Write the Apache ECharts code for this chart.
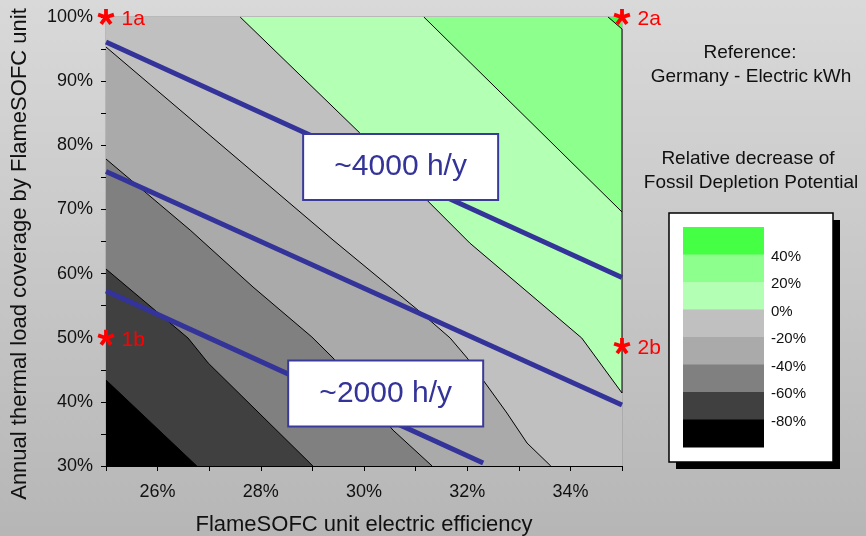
<!DOCTYPE html>
<html>
<head>
<meta charset="utf-8">
<title>Fossil Depletion Potential – FlameSOFC</title>
<script src="https://cdn.jsdelivr.net/npm/echarts@6/dist/echarts.min.js"></script>
<style>
  html, body { margin: 0; padding: 0; }
  #chart { width: 866px; height: 536px; }
</style>
</head>
<body>
<div id="chart"></div>
<script>
// Axis extents (electric efficiency %, thermal load coverage %)
const X_MIN = 25, X_MAX = 35, Y_MIN = 30, Y_MAX = 100;

// Contour lines of the relative decrease, each running from the upper-left edge to the lower-right edge
const contourM80 = [[25, 43.4], [26.76, 30]];
const contourM60 = [[25, 60.71], [26.59, 49.95], [26.98, 46.06], [29.01, 30]];
const contourM40 = [[25, 77.86], [26.63, 66.79], [27.85, 57.9], [28.99, 50.11], [29.4, 46.84], [30.56, 35.61], [31.32, 30]];
const contourM20 = [[25, 95.32], [29.4, 65.23], [31.09, 54.01], [31.67, 49.95], [32.0, 46.83], [32.77, 38.26], [33.16, 33.58], [33.62, 30]];
const contour0   = [[27.6, 100], [29.92, 81.91], [32.05, 64.76], [34.22, 49.95], [35, 41.38]];
const contour20  = [[31.16, 100], [35, 69.6]];
const contour40  = [[34.73, 100], [35, 98.13]];

// Iso-lines of yearly operating hours
const hoursHigh = [[25, 96.1], [35, 59.4]];
const hoursMid  = [[25, 75.9], [35, 39.5]];
const hoursLow  = [[25, 57.3], [32.31, 30.46]];

// Boxed hour labels [x, y, text]
const hourLabels = [[30.71, 76.6, '~4000 h/y'], [30.42, 41.3, '~2000 h/y']];

// Marked cases [x, y, name]
const casePoints = [[25, 100, '1a'], [25, 50, '1b'], [35, 100, '2a'], [35, 48.7, '2b']];

// Band colours from lowest (< -80%) to highest (> 40%)
const bandColors = ['#000000', '#404040', '#808080', '#aaaaaa', '#c0c0c0', '#b3ffb3', '#8cff8c', '#44ff44'];
// Colour scale labels, top to bottom
const scaleLabels = ['40%', '20%', '0%', '-20%', '-40%', '-60%', '-80%'];

const contours = [contourM80, contourM60, contourM40, contourM20, contour0, contour20, contour40];

// Area on the high side (upper right) of a contour line, closed along the plot border
function regionAbove(c) {
  const pts = c.slice();
  const start = c[0], end = c[c.length - 1];
  if (end[1] <= Y_MIN && end[0] < X_MAX) pts.push([X_MAX, Y_MIN]);
  pts.push([X_MAX, Y_MAX]);
  if (start[0] <= X_MIN && start[1] < Y_MAX) pts.push([X_MIN, Y_MAX]);
  return pts;
}
const regions = [[[X_MIN, Y_MIN], [X_MAX, Y_MIN], [X_MAX, Y_MAX], [X_MIN, Y_MAX]]]
  .concat(contours.map(regionAbove));

// Right-hand border of the green area
const greenEdge = [[X_MAX, contour40[contour40.length - 1][1]], [X_MAX, contour0[contour0.length - 1][1]]];

// Five-armed asterisk marker
function asteriskPath() {
  const L = 10, w = 2.3;
  let d = '';
  for (let k = 0; k < 5; k++) {
    const a = (-90 + 72 * k) * Math.PI / 180;
    const dx = Math.cos(a), dy = Math.sin(a);
    const nx = -dy, ny = dx;
    const p = [
      [nx * w, ny * w],
      [nx * w + dx * L, ny * w + dy * L],
      [-nx * w + dx * L, -ny * w + dy * L],
      [-nx * w, -ny * w]
    ];
    d += 'M' + p.map(q => q[0].toFixed(2) + ',' + q[1].toFixed(2)).join('L') + 'Z';
  }
  return 'path://' + d;
}

const FONT = "'Liberation Sans', Arial, sans-serif";

function contourSeries(pts) {
  return {
    type: 'line', data: pts, symbol: 'none', silent: true, z: 3,
    lineStyle: { color: '#000', width: 1 }, animation: false
  };
}
function hoursSeries(pts) {
  return {
    type: 'line', data: pts, symbol: 'none', silent: true, z: 5,
    lineStyle: { color: '#333399', width: 5 }, animation: false
  };
}

// Colour scale box on the right
const LEG_X = 669, LEG_Y = 213, LEG_W = 164, LEG_H = 249;
const SW_X = 683, SW_Y = 227, SW_W = 81, SW_H = 27.5;
const legendGraphics = [
  { type: 'rect', shape: { x: LEG_X + 7, y: LEG_Y + 7, width: LEG_W, height: LEG_H }, style: { fill: '#000' }, z: 10 },
  { type: 'rect', shape: { x: LEG_X, y: LEG_Y, width: LEG_W, height: LEG_H }, style: { fill: '#fff', stroke: '#000', lineWidth: 1.5 }, z: 11 }
];
bandColors.slice().reverse().forEach((c, i) => {
  legendGraphics.push({ type: 'rect', shape: { x: SW_X, y: SW_Y + i * SW_H, width: SW_W, height: SW_H + 0.5 }, style: { fill: c }, z: 12 });
});
scaleLabels.forEach((t, i) => {
  legendGraphics.push({
    type: 'text', x: 771, y: SW_Y + (i + 1) * SW_H + 2, z: 12,
    style: { text: t, font: '15px ' + FONT, fill: '#111', textAlign: 'left', textVerticalAlign: 'middle' }
  });
});

const sideTexts = [
  ['Reference:', 750, 53],
  ['Germany - Electric kWh', 751, 77],
  ['Relative decrease of', 748, 159],
  ['Fossil Depletion Potential', 751, 183]
].map(([t, x, y]) => ({
  type: 'text', x: x, y: y, z: 12,
  style: { text: t, font: '19px ' + FONT, fill: '#111', textAlign: 'center', textVerticalAlign: 'middle' }
}));

const chart = echarts.init(document.getElementById('chart'), null, { renderer: 'canvas' });
chart.setOption({
  animation: false,
  backgroundColor: new echarts.graphic.LinearGradient(0, 0, 0, 1, [
    { offset: 0, color: '#d9d9d9' }, { offset: 1, color: '#b6b6b6' }
  ]),
  textStyle: { fontFamily: FONT },
  grid: {
    left: 106, right: 244, top: 17, bottom: 70, show: true,
    containLabel: false, outerBoundsMode: 'none',
    borderColor: '#9a9a9a', borderWidth: 1, backgroundColor: 'transparent'
  },
  xAxis: {
    type: 'value', min: X_MIN, max: X_MAX, interval: 1,
    name: 'FlameSOFC unit electric efficiency', nameLocation: 'middle', nameGap: 48,
    nameTextStyle: { fontSize: 22, color: '#111', fontFamily: FONT },
    axisLine: { show: true, onZero: false, lineStyle: { color: '#000', width: 1 } },
    axisTick: { show: true, length: 5, lineStyle: { color: '#000' } },
    splitLine: { show: false },
    axisLabel: {
      fontSize: 18, color: '#111', margin: 17, fontFamily: FONT,
      formatter: v => (Math.round(v) % 2 === 0 ? Math.round(v) + '%' : '')
    }
  },
  yAxis: {
    type: 'value', min: Y_MIN, max: Y_MAX, interval: 5,
    axisLine: { show: true, onZero: false, lineStyle: { color: '#000', width: 1 } },
    axisTick: { show: true, length: 5, lineStyle: { color: '#000' } },
    splitLine: { show: false },
    axisLabel: {
      fontSize: 18, color: '#111', margin: 13, fontFamily: FONT,
      formatter: v => (Math.round(v) % 10 === 0 ? Math.round(v) + '%' : '')
    }
  },
  graphic: [
    {
      type: 'text', x: 20, y: 254, rotation: Math.PI / 2, z: 12,
      style: {
        text: 'Annual thermal load coverage by FlameSOFC unit', font: '22px ' + FONT,
        fill: '#111', textAlign: 'center', textVerticalAlign: 'middle'
      }
    }
  ].concat(sideTexts, legendGraphics),
  series: [
    {
      type: 'custom', coordinateSystem: 'cartesian2d', silent: true, z: 1, clip: true,
      data: regions.map((r, i) => [X_MIN, Y_MIN, i]),
      encode: { x: 0, y: 1 },
      renderItem: (params, api) => {
        const i = params.dataIndex;
        const pts = regions[i].map(p => api.coord(p));
        return { type: 'polygon', shape: { points: pts }, style: { fill: bandColors[i], stroke: null } };
      }
    },
    ...contours.map(contourSeries),
    contourSeries(greenEdge),
    hoursSeries(hoursHigh),
    hoursSeries(hoursMid),
    hoursSeries(hoursLow),
    {
      type: 'scatter', data: hourLabels, symbolSize: 2, silent: true, z: 8,
      itemStyle: { color: 'rgba(0,0,0,0)', opacity: 1 },
      label: {
        show: true, position: 'inside', formatter: p => p.data[2], opacity: 1,
        color: '#333399', fontSize: 30, fontFamily: FONT,
        backgroundColor: '#ffffff', borderColor: '#3a3a9a', borderWidth: 2,
        width: 193, height: 64, lineHeight: 64, align: 'center', verticalAlign: 'middle'
      }
    },
    {
      type: 'scatter', data: casePoints, symbol: asteriskPath(), symbolSize: 17,
      symbolKeepAspect: true, clip: false, silent: true, z: 9,
      itemStyle: { color: '#ff0000', opacity: 1 },
      label: {
        show: true, position: 'right', distance: 6, offset: [1, 2], formatter: p => p.data[2], opacity: 1,
        color: '#ff0000', fontSize: 21, fontFamily: FONT
      }
    }
  ]
});
</script>
</body>
</html>
